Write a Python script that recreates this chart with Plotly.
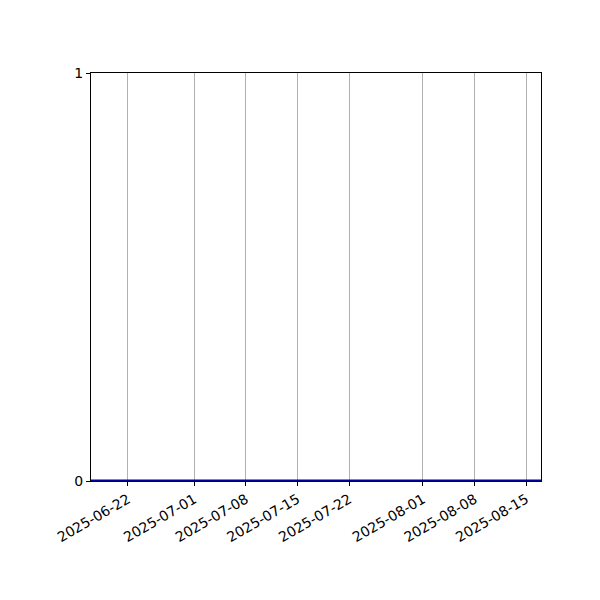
import pandas as pd
import plotly.graph_objects as go

dates = pd.date_range("2025-06-17", "2025-08-17", freq="D").strftime("%Y-%m-%d").tolist()
values = [0] * len(dates)
tick_dates = ["2025-06-22", "2025-07-01", "2025-07-08", "2025-07-15",
              "2025-07-22", "2025-08-01", "2025-08-08", "2025-08-15"]
y_ticks = [0, 1]

fig = go.Figure()
fig.add_trace(go.Scatter(x=dates, y=values, mode="lines",
                         line=dict(color="#0000a0", width=3), showlegend=False))

fig.update_layout(
    width=600, height=600,
    margin=dict(l=83, r=67, t=65, b=127, autoexpand=False),
    paper_bgcolor="white", plot_bgcolor="white",
    font=dict(family="DejaVu Sans", size=14, color="black"),
)
fig.update_xaxes(
    type="date", range=["2025-06-17", "2025-08-17"],
    tickvals=tick_dates, ticktext=tick_dates, tickangle=-30,
    showgrid=True, gridcolor="#b0b0b0", gridwidth=1,
    showline=True, linecolor="black", linewidth=1, mirror=True,
    ticks="outside", ticklen=4, tickcolor="black", zeroline=False,
)
fig.update_yaxes(
    range=[0, 1], tickvals=y_ticks, ticktext=[str(v) for v in y_ticks],
    showgrid=False, zeroline=False,
    showline=True, linecolor="black", linewidth=1, mirror=True,
    ticks="outside", ticklen=4, tickcolor="black",
)
fig.write_html("out.html")
